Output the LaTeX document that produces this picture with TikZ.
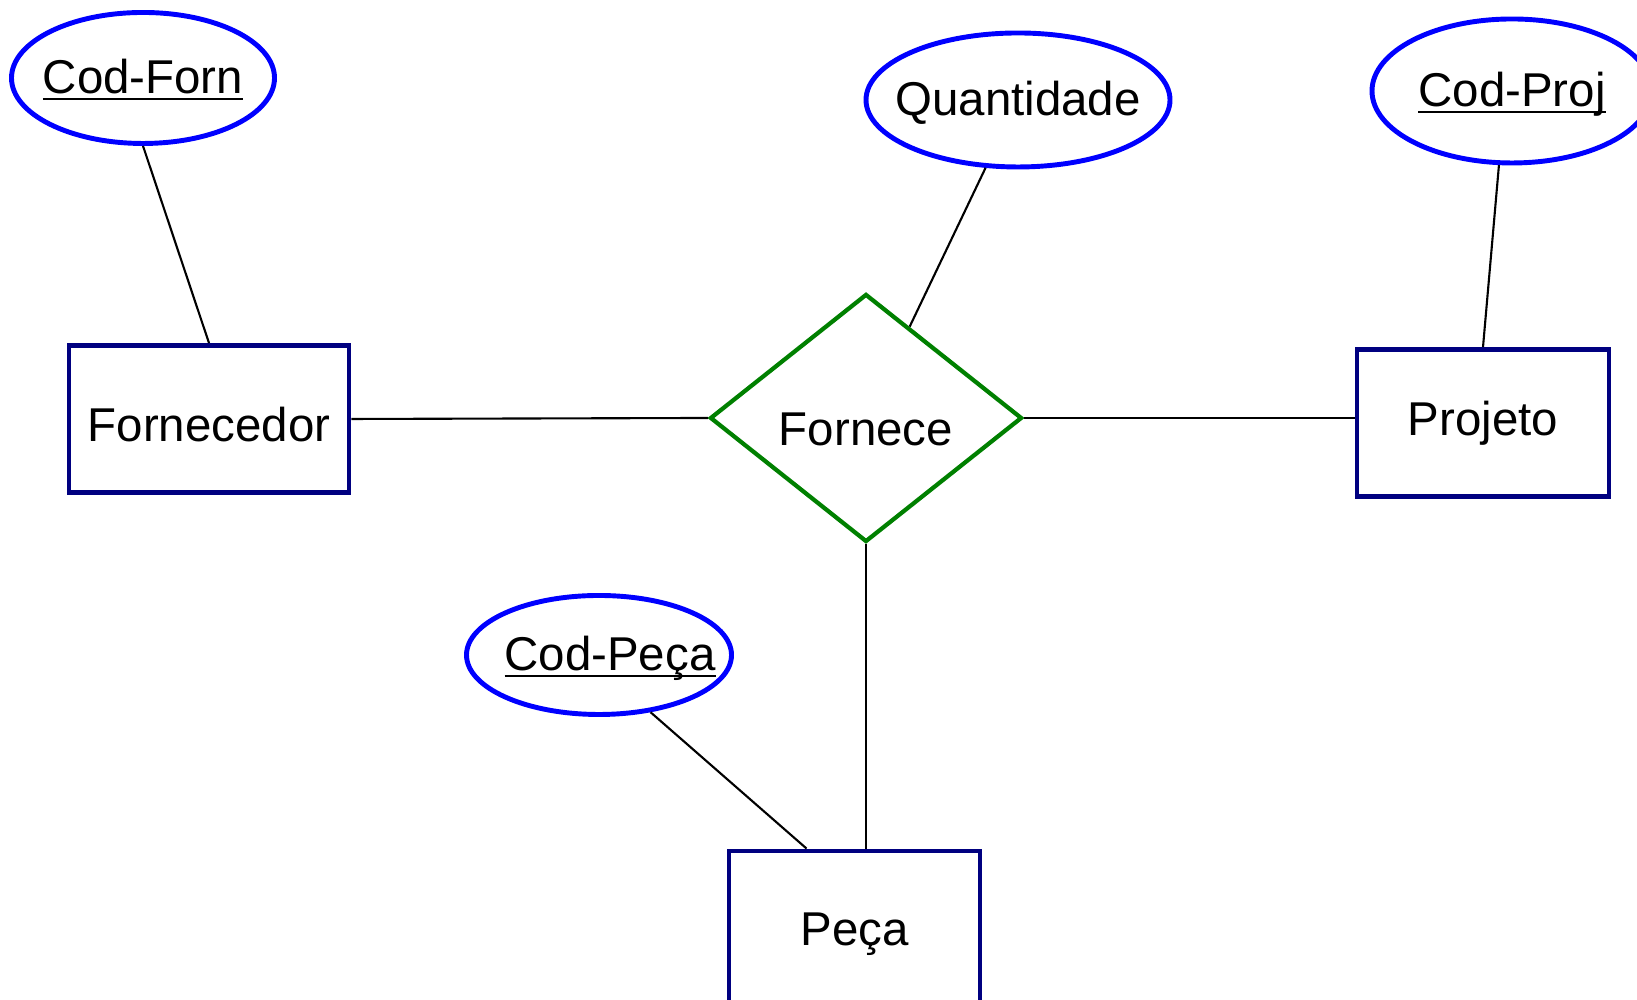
\documentclass[tikz,border=0pt]{standalone}
\usepackage{fontspec}
\setmainfont{Liberation Sans}
\usepackage{tikz}
\usetikzlibrary{shapes.geometric,calc}

\definecolor{attrblue}{RGB}{0,0,255}
\definecolor{entnavy}{RGB}{0,0,128}
\definecolor{relgreen}{RGB}{0,128,0}

\newcommand{\attrtext}[1]{\makebox[0pt]{#1}}
\newcommand{\keyattr}[2][0cm]{\makebox[0pt]{\hspace*{#1}\underline{\smash{#2}}}}

\begin{document}
\begin{tikzpicture}[
    attrib/.style={ellipse, draw=attrblue, line width=1.4pt, inner sep=0pt,
      text height=0.34cm, text depth=0.02cm, font=\fontsize{13.5}{16}\selectfont},
    entity/.style={rectangle, draw=entnavy, line width=1.4pt, inner sep=0pt,
      minimum height=1.47cm, text height=0.40cm, text depth=0cm,
      font=\fontsize{13.5}{16}\selectfont},
    relship/.style={diamond, draw=relgreen, line width=1.2pt, inner sep=0pt,
      aspect=1.25, text height=0.56cm, text depth=0cm,
      font=\fontsize{13.5}{16}\selectfont},
    conn/.style={draw=black, line width=0.6pt}
  ]

    \useasboundingbox (0,0) rectangle (16.37,10);

    % Entities
    \node[entity, minimum width=2.80cm, text height=0.46cm] (fornecedor) at (2.09,5.81) {Fornecedor};
    \node[entity, minimum width=2.52cm, text height=0.26cm] (projeto) at (14.83,5.77) {Projeto};
    \node[entity, minimum width=2.51cm, minimum height=1.70cm, text height=0.20cm] (peca) at (8.545,0.64) {Peça};

    % Relationship
    \node[relship, minimum width=3.12cm, minimum height=2.48cm] (fornece) at (8.66,5.82) {Fornece};

    % Attributes
    \node[attrib, minimum width=2.63cm, minimum height=1.31cm] (codforn) at (1.43,9.22) {\keyattr{Cod-Forn}};
    \node[attrib, minimum width=3.04cm, minimum height=1.34cm] (quantidade) at (10.18,9.00) {\attrtext{Quantidade}};
    \node[attrib, minimum width=2.80cm, minimum height=1.44cm] (codproj) at (15.12,9.09) {\keyattr{Cod-Proj}};
    \node[attrib, minimum width=2.65cm, minimum height=1.19cm] (codpeca) at (5.99,3.45) {\keyattr[0.22cm]{Cod-Peça}};

    % Links
    \draw[conn] (codforn.south) -- (fornecedor.north);
    \draw[conn] (quantidade) -- (fornece);
    \draw[conn] (codproj.260) -- (projeto.north);
    \draw[conn] (codpeca.-48) -- ([xshift=-0.48cm]peca.north);
    \draw[conn] (fornecedor.east) -- (fornece.west);
    \draw[conn] (fornece.east) -- (fornece.east -| projeto.west);
    \draw[conn] (fornece.south) -- (fornece.south |- peca.north);

  \end{tikzpicture}
\end{document}
